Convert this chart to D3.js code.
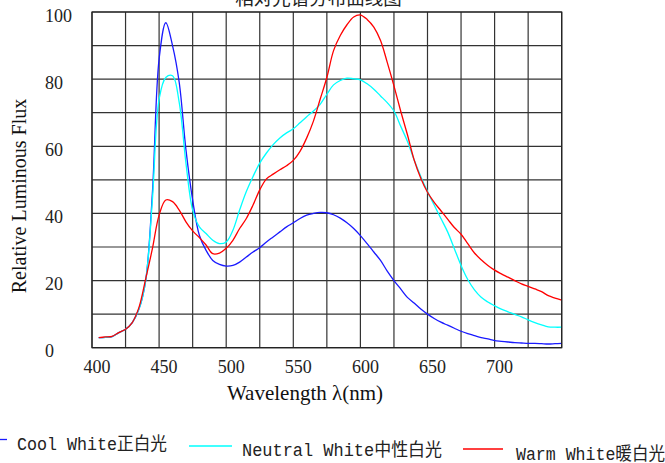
<!DOCTYPE html>
<html>
<head>
<meta charset="utf-8">
<script src="https://cdn.jsdelivr.net/npm/d3@7"></script>
<style>
  body { margin: 0; background: #fff; }
  svg { display: block; }
</style>
</head>
<body>
<script>
// wavelengths (nm) sampled every 5nm
var wavelengths = [405,410,415,420,425,430,435,440,445,450,455,460,465,470,475,480,485,490,495,500,
  505,510,515,520,525,530,535,540,545,550,555,560,565,570,575,580,585,590,595,600,
  605,610,615,620,625,630,635,640,645,650,655,660,665,670,675,680,685,690,695,700,
  705,710,715,720,725,730,735,740,745,750];

var coolWhite = [3.0,3.1,3.3,4.5,5.5,7.5,11.5,20,46,86,96.8,90,79,59,44,33.5,29,26,24.8,24.3,
  24.5,25.5,27,28.5,29.8,31.5,33,34.5,36,37.2,38.5,39.5,40,40.3,40.2,39.6,38.6,37.2,35.5,33.4,
  31,28.5,26,22.8,20,17.5,15,13.3,11.5,10,8.7,7.6,6.7,5.8,4.9,4.2,3.6,3.0,2.6,2.1,
  1.9,1.7,1.5,1.4,1.3,1.3,1.2,1.1,1.2,1.3];

var neutralWhite = [3.0,3.1,3.3,4.5,5.5,7.5,11.5,20,44,74,80.5,81,73,55,41,36,34,32,31,31.5,
  35,41,46.5,51,55,58,60.5,62.5,64,65.2,67,68.8,70.5,72.5,75.5,78.3,79.6,80.3,80.1,79.8,
  78.6,77,75,73,70.5,66,61.5,56,51,46.5,42.5,38.5,34.5,29.5,24.5,20.3,17.2,15,13.6,12.5,
  11.5,10.7,9.9,9.2,8.3,7.5,6.8,6.2,6.1,6.1];

var warmWhite = [3.0,3.2,3.4,4.5,5.5,7.5,12,20.5,29.5,39.5,44,43.5,41,37.5,34.8,32.8,30.6,28,28.2,29.6,
  32,35.5,38.5,42.5,47,50.3,51.7,53,54.2,55.8,58.5,62.5,67.5,74,80.5,88.5,93,96.2,98.5,99.1,
  97.8,95.5,91.5,85,78,70.5,63.5,56,50.5,46.3,43.3,40.8,38.3,35.8,33.8,31,28.2,26.2,24.5,23.1,
  22,21,20,19,18.3,17.5,16.7,15.5,14.8,14.2];

var xTicks = [400,450,500,550,600,650,700];
var yTicks = [0,20,40,60,80,100];
var seriesNames = ['Cool White正白光','Neutral White中性白光','Warm White暖白光'];
var seriesColors = ['#1a1aff','#00ffff','#ff0000'];

var width = 665, height = 463;
var plotL = 92, plotR = 561.7, plotT = 12, plotB = 347.7;

var svg = d3.select('body').append('svg')
    .attr('width', width)
    .attr('height', height);

var x = d3.scaleLinear().domain([400, 750]).range([plotL, plotR]);
var y = d3.scaleLinear().domain([0, 100]).range([plotB, plotT]);

// grid every 25nm / 10 units
var grid = svg.append('g').attr('stroke', '#333').attr('stroke-width', 1.2);
grid.selectAll('.vg')
    .data(d3.range(400, 751, 25))
    .enter().append('line')
    .attr('x1', function(d) { return x(d); })
    .attr('x2', function(d) { return x(d); })
    .attr('y1', plotT).attr('y2', plotB);
grid.selectAll('.hg')
    .data(d3.range(0, 101, 10))
    .enter().append('line')
    .attr('x1', plotL).attr('x2', plotR)
    .attr('y1', function(d) { return y(d); })
    .attr('y2', function(d) { return y(d); });

// tick labels (the original has them a bit right of the grid lines)
svg.append('g').selectAll('text')
    .data(xTicks)
    .enter().append('text')
    .attr('x', function(d) { return x(d) + 5; })
    .attr('y', 373)
    .attr('text-anchor', 'middle')
    .attr('font-family', 'Liberation Serif, Times New Roman, serif')
    .attr('font-size', 18)
    .attr('fill', '#222')
    .text(function(d) { return d; });

svg.append('g').selectAll('text')
    .data(yTicks)
    .enter().append('text')
    .attr('x', 45)
    .attr('y', function(d) { return y(d) + 9.5; })
    .attr('font-family', 'Liberation Serif, Times New Roman, serif')
    .attr('font-size', 18)
    .attr('fill', '#222')
    .text(function(d) { return d; });

// axis titles
svg.append('text')
    .attr('x', 305).attr('y', 400)
    .attr('text-anchor', 'middle')
    .attr('font-family', 'Liberation Serif, Times New Roman, serif')
    .attr('font-size', 21)
    .attr('fill', '#111')
    .text('Wavelength λ(nm)');

svg.append('text')
    .attr('transform', 'translate(26,196) rotate(-90)')
    .attr('text-anchor', 'middle')
    .attr('font-family', 'Liberation Serif, Times New Roman, serif')
    .attr('font-size', 20)
    .attr('fill', '#111')
    .text('Relative Luminous Flux');

svg.append('text')
    .attr('x', 318.5).attr('y', 5)
    .attr('text-anchor', 'middle')
    .attr('font-family', 'Noto Sans CJK SC, sans-serif')
    .attr('font-size', 18.5)
    .attr('fill', '#222')
    .text('相对光谱分布曲线图');

// curves
var line = d3.line()
    .x(function(d) { return x(d[0]); })
    .y(function(d) { return y(d[1]); })
    .curve(d3.curveCatmullRom);

[coolWhite, neutralWhite, warmWhite].forEach(function(vals, i) {
  svg.append('path')
      .datum(wavelengths.map(function(w, j) { return [w, vals[j]]; }))
      .attr('fill', 'none')
      .attr('stroke', seriesColors[i])
      .attr('stroke-width', 1.3)
      .attr('d', line);
});

// legend (staggered like the original)
var legendItems = [
  {x1: 0, x2: 7, ly: 439.5, tx: 17, ty: 450, tw: 150},
  {x1: 189, x2: 232, ly: 446, tx: 242, ty: 456, tw: 200},
  {x1: 463, x2: 503, ly: 449, tx: 516, ty: 460, tw: 149}
];
var legend = svg.append('g').selectAll('g')
    .data(legendItems)
    .enter().append('g');
legend.append('line')
    .attr('x1', function(d) { return d.x1; })
    .attr('x2', function(d) { return d.x2; })
    .attr('y1', function(d) { return d.ly; })
    .attr('y2', function(d) { return d.ly; })
    .attr('stroke', function(d, i) { return seriesColors[i]; })
    .attr('stroke-width', 1.3);
legend.append('text')
    .attr('x', function(d) { return d.tx; })
    .attr('y', function(d) { return d.ty; })
    .attr('textLength', function(d) { return d.tw; })
    .attr('lengthAdjust', 'spacingAndGlyphs')
    .attr('font-family', 'Liberation Mono, Noto Sans CJK SC, monospace')
    .attr('font-size', 18)
    .attr('fill', '#222')
    .text(function(d, i) { return seriesNames[i]; });

// frame
svg.append('rect')
    .attr('x', plotL).attr('y', plotT)
    .attr('width', plotR - plotL).attr('height', plotB - plotT)
    .attr('fill', 'none')
    .attr('stroke', '#222')
    .attr('stroke-width', 1.2);
</script>
</body>
</html>
